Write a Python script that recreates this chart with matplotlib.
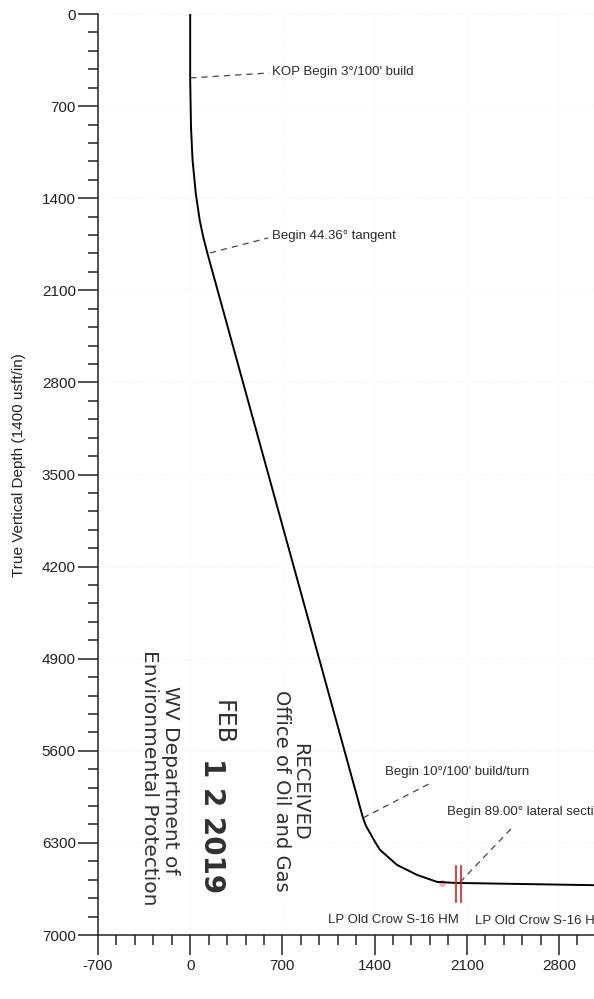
import matplotlib
matplotlib.use("Agg")
import matplotlib.pyplot as plt
from matplotlib.ticker import MultipleLocator

plt.rcParams['font.family'] = ['Liberation Sans', 'DejaVu Sans']
plt.rcParams['axes.unicode_minus'] = False

# 井眼轨迹（垂直剖面 / 垂深）
well_vs = [0, 0, 6, 18, 42, 72, 99, 130, 1312, 1335, 1365, 1403, 1441, 1570, 1722, 1873, 2010, 3100]
well_tvd = [0, 502, 859, 1110, 1360, 1566, 1695, 1816, 6110, 6171, 6224, 6292, 6353, 6467, 6543, 6596, 6604, 6622]

# 关键点
kop_vs, kop_tvd = 0, 486
tangent_vs, tangent_tvd = 130, 1816
turn_vs, turn_tvd = 1312, 6110
lateral_vs, lateral_tvd = 2048, 6600

# 靶窗红线
target_vs = [2017, 2055]
target_tvd_top = 6474
target_tvd_bottom = 6748

x_ticks = [-700, 0, 700, 1400, 2100, 2800]
y_ticks = [0, 700, 1400, 2100, 2800, 3500, 4200, 4900, 5600, 6300, 7000]

fig = plt.figure(figsize=(5.94, 9.99), dpi=100)
ax = fig.add_axes([98 / 594, 1 - 935 / 999, 496 / 594, 921 / 999])

# 淡网格
ax.grid(True, which='major', color='#efefef', linewidth=0.6, linestyle=':')
ax.set_axisbelow(True)

# 轨迹
ax.plot(well_vs, well_tvd, color='black', linewidth=1.4, solid_joinstyle='round', zorder=3)

# 靶窗
for tx in target_vs:
    ax.plot([tx, tx], [target_tvd_top, target_tvd_bottom], color='#e0201c', linewidth=1.2, zorder=4)
ax.plot([1911], [6604], 'o', color='#f3a3b3', markersize=4, alpha=0.8, zorder=2)

# 标注引线
dash = dict(color='#444444', linewidth=0.9, linestyle=(0, (5, 4)))
ax.plot([kop_vs, 599], [kop_tvd, 448], **dash)
ax.plot([tangent_vs + 20, 592], [tangent_tvd, 1702], **dash)
ax.plot([turn_vs, 1843], [turn_tvd, 5836], **dash)
ax.plot([lateral_vs, 2450], [lateral_tvd, 6178], **dash)

txt = dict(fontsize=9.5, color='#2a2a2a', ha='left', va='center', clip_on=False)
ax.text(622, 441, "KOP Begin 3°/100' build", **txt)
ax.text(622, 1687, "Begin 44.36° tangent", **txt)
ax.text(1479, 5760, "Begin 10°/100' build/turn", **txt)
ax.text(1949, 6064, "Begin 89.00° lateral section", **txt)
ax.text(1047, 6885, "LP Old Crow S-16 HM", **txt)
ax.text(2161, 6892, "LP Old Crow S-16 HM", **txt)

# 收文印章
stamp = dict(color='#303030', rotation=-90, ha='center', va='center', family='DejaVu Sans')
ax.text(830, 5912, "RECEIVED", fontsize=14, **stamp)
ax.text(690, 5905, "Office of Oil and Gas", fontsize=14, **stamp)
ax.text(243, 5388, "FEB", fontsize=17, **stamp)
ax.text(167, 6170, "1 2 2019", fontsize=20, fontweight='bold', **stamp)
ax.text(-152, 5821, "WV Department of", fontsize=14.5, **stamp)
ax.text(-311, 5806, "Environmental Protection", fontsize=14.5, **stamp)

# 坐标轴
ax.set_xlim(-700, 3066)
ax.set_ylim(7000, 0)
ax.set_xticks(x_ticks)
ax.set_yticks(y_ticks)
ax.xaxis.set_minor_locator(MultipleLocator(140))
ax.yaxis.set_minor_locator(MultipleLocator(140))
ax.tick_params(which='major', direction='out', length=14.5, width=1.1, color='#222222',
               labelsize=11, labelcolor='#222222')
ax.tick_params(axis='y', which='major', pad=1.5)
ax.tick_params(axis='x', which='major', pad=3)
ax.tick_params(which='minor', direction='out', length=7.5, width=1.1, color='#222222')
for side in ['top', 'right']:
    ax.spines[side].set_visible(False)
for side in ['left', 'bottom']:
    ax.spines[side].set_linewidth(1.1)
    ax.spines[side].set_color('#222222')

ax.set_ylabel('True Vertical Depth (1400 usft/in)', fontsize=11, color='#222222')
ax.yaxis.set_label_coords(-0.145, 0.51)

fig.savefig('out.png', dpi=100)
